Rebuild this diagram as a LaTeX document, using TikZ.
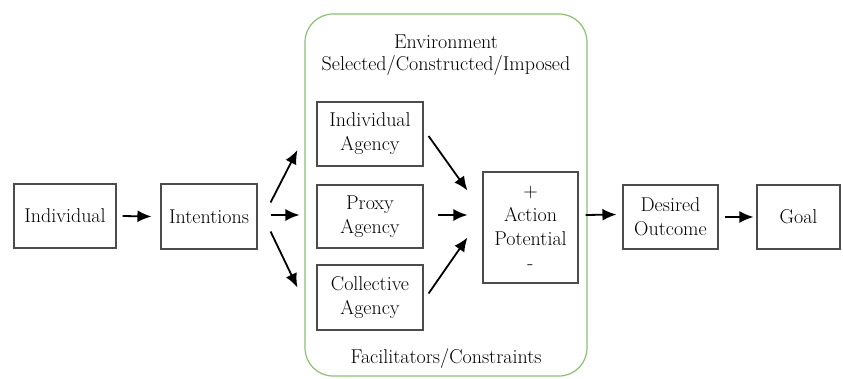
\documentclass[tikz,border=0pt]{standalone}
\usepackage{fontspec}
\usetikzlibrary{arrows.meta,calc}
\definecolor{envgreen}{RGB}{140,190,115}
\begin{document}
\begin{tikzpicture}[x=1pt,y=-1pt,
  box/.style={draw=black!70,line width=1.1pt,text=black,align=center,inner sep=0pt,
    font=\fontsize{20}{24}\selectfont},
  lbl/.style={text=black,inner sep=0pt,font=\fontsize{20}{24}\selectfont},
  arr/.style={line width=1.8pt,-{Latex[length=14pt,width=12pt]}}]
\useasboundingbox (0,0) rectangle (843,378);
\node[draw=envgreen,line width=1.2pt,rounded corners=28pt,minimum width=282pt,minimum height=362pt,inner sep=0pt] (env) at (446,195) {};
\node[lbl] (envt) at (446,42) {Environment};
\node[lbl] (sel) at (446,65) {Selected/Constructed/Imposed};
\node[lbl] (fac) at (446,358) {Facilitators/Constraints};
\node[box,minimum width=102pt,minimum height=64pt] (ind) at (65,216) {Individual};
\node[box,minimum width=96pt,minimum height=65pt] (int) at (209,216.5) {Intentions};
\node[box,minimum width=106pt,minimum height=64pt] (ia) at (370,134) {Individual\\Agency};
\node[box,minimum width=106pt,minimum height=63pt] (pa) at (370,216.5) {Proxy\\Agency};
\node[box,minimum width=106pt,minimum height=65pt] (ca) at (370,297.5) {Collective\\Agency};
\node[box,minimum width=95pt,minimum height=111pt] (ap) at (530.5,227.5) {+\\Action\\Potential\\-};
\node[box,minimum width=95pt,minimum height=64pt] (des) at (670.5,217) {Desired\\Outcome};
\node[box,minimum width=83pt,minimum height=64pt] (goal) at (798.5,217) {Goal};
\draw[arr] ($(ind.east)+(6,0)$) -- ($(int.west)+(-9,0)$);
\draw[arr] ($(int.east)+(13,-14)$) -- ($(ia.west)+(-19,16)$);
\draw[arr] ($(int.east)+(13,-1.5)$) -- ($(pa.west)+(-17,-1.5)$);
\draw[arr] ($(int.east)+(13,15)$) -- ($(ca.west)+(-19,-10)$);
\draw[arr] ($(ia.east)+(5,2)$) -- ($(ap.west)+(-15,-37)$);
\draw[arr] ($(pa.east)+(14,-1.5)$) -- ($(ap.west)+(-15,-12.5)$);
\draw[arr] ($(ca.east)+(5,-4)$) -- ($(ap.west)+(-15,10)$);
\draw[arr] ($(ap.east)+(7,-12.5)$) -- ($(des.west)+(-6,-2.5)$);
\draw[arr] ($(des.east)+(6,0)$) -- ($(goal.west)+(-3,0)$);
\end{tikzpicture}
\end{document}
